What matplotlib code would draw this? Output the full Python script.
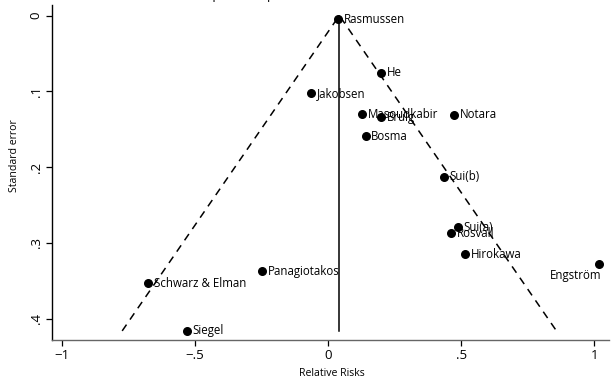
import matplotlib
matplotlib.use('Agg')
from matplotlib import pyplot as plt

# study estimates (log relative risk) and their standard errors
studies = ['Rasmussen', 'He', 'Jakobsen', 'Masoudkabir', 'Bruig', 'Notara',
           'Bosma', 'Sui(b)', 'Sui(a)', 'Rosvall', 'Hirokawa', 'Engström',
           'Panagiotakos', 'Schwarz & Elman', 'Siegel']
effect = [0.039, 0.199, -0.063, 0.128, 0.200, 0.474,
          0.141, 0.436, 0.488, 0.462, 0.514, 1.018,
          -0.248, -0.676, -0.531]
std_err = [0.005, 0.0755, 0.1027, 0.1303, 0.1343, 0.1309,
           0.159, 0.2127, 0.279, 0.287, 0.3147, 0.3278,
           0.337, 0.353, 0.416]
pooled = 0.0424

xticks = [-1, -0.5, 0, 0.5, 1]
xtick_labels = ['\u22121', '\u2212.5', '0', '.5', '1']
yticks = [0, 0.1, 0.2, 0.3, 0.4]
ytick_labels = ['0', '.1', '.2', '.3', '.4']

font = 'Open Sans'
fsize_mlab = 8.3
fsize_tick = 9.5
fsize_axis = 7.6

fig = plt.figure(figsize=(6.13, 3.8), dpi=100)
ax = fig.add_axes([51.7 / 613, 1 - 340 / 380, (609 - 51.7) / 613, (340 - 5) / 380])

# pseudo 95% confidence limits
se_max = max(std_err)
ax.plot([pooled - 1.96 * se_max, pooled, pooled + 1.96 * se_max], [se_max, 0, se_max],
        color='black', lw=1.1, linestyle=(0, (5, 4)))
ax.plot([pooled, pooled], [0, se_max], color='black', lw=1.1)

ax.scatter(effect, std_err, s=30, color='black', zorder=3)
for name, x, y in zip(studies, effect, std_err):
    if name == 'Engström':
        ax.annotate(name, (x, y), xytext=(1.5, -8), textcoords='offset points',
                    ha='right', va='center', fontsize=fsize_mlab, family=font)
    else:
        ax.annotate(name, (x, y), xytext=(4, 0), textcoords='offset points',
                    ha='left', va='center', fontsize=fsize_mlab, family=font)

ax.set_xlim(-1.0376, 1.055)
ax.set_ylim(0.428, -0.0139)

ax.set_xticks(xticks)
ax.set_xticklabels(xtick_labels, fontsize=fsize_tick, family=font)
ax.set_yticks(yticks)
ax.set_yticklabels(ytick_labels, fontsize=fsize_tick, family=font, rotation=90, va='center')
ax.tick_params(axis='both', length=4.5, width=0.9, pad=2)
ax.tick_params(axis='x', colors='black')

for side in ['top', 'right']:
    ax.spines[side].set_visible(False)
ax.spines['left'].set_linewidth(1.0)
ax.spines['bottom'].set_linewidth(1.0)
ax.spines['bottom'].set_color('#666666')

fig.text(332 / 613, 1 - 373 / 380, 'Relative Risks', ha='center', va='center',
         fontsize=fsize_axis, family=font)
fig.text(15 / 613, 1 - 156 / 380, 'Standard error', ha='center', va='center',
         rotation=90, fontsize=fsize_axis, family=font)

# title sits above the canvas, only descenders show
fig.text(169 / 613, 1 + 1 / 380, 'Funnel plot with pseudo 95% confidence limits',
         ha='left', va='baseline', fontsize=9, family=font)

fig.savefig('out.png', dpi=100)
